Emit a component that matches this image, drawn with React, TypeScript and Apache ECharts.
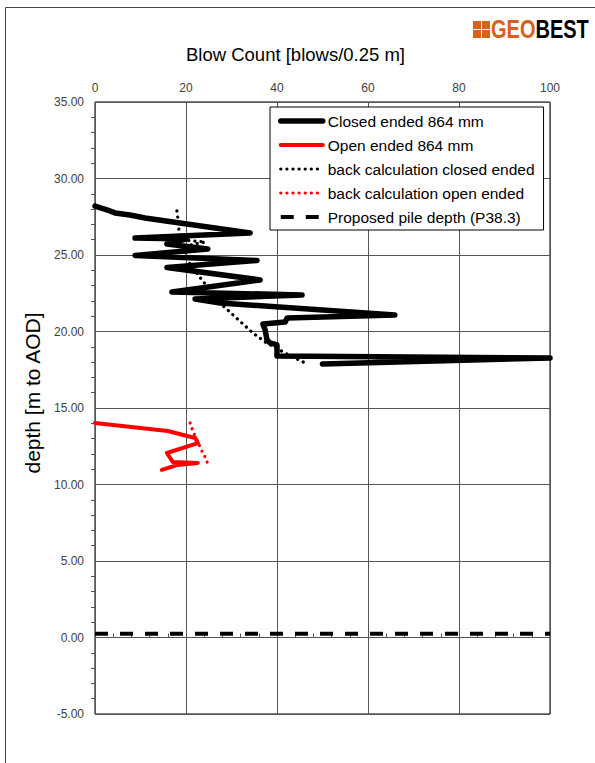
import React, { useEffect, useRef } from "react";
import * as echarts from "echarts";

// Closed ended 864 mm: blow count vs depth
const closedBlows = [0, 3.3, 4.4, 7.7, 11.0, 20.2, 34.1, 8.8, 20.2, 15.8, 24.8, 8.8, 35.6, 15.8, 36.3, 16.9, 45.5, 22.0, 27.5, 65.9, 42.2, 41.8, 36.9, 37.4, 37.8, 38.5, 40.0, 40.0, 100, 50];
const closedDepth = [28.2, 27.88, 27.75, 27.61, 27.42, 27.03, 26.44, 26.11, 26.05, 25.72, 25.39, 24.97, 24.64, 24.18, 23.37, 22.58, 22.39, 22.12, 21.86, 21.08, 20.88, 20.62, 20.49, 20.1, 19.44, 19.25, 19.12, 18.4, 18.27, 17.88];

// Open ended 864 mm
const openBlows = [0, 16.0, 22.0, 22.6, 15.8, 17.1, 22.6, 18.0, 14.7];
const openDepth = [14.02, 13.5, 13.04, 12.71, 12.06, 11.47, 11.41, 11.27, 10.95];

// back calculation closed ended
const backClosedBlows = [18.0, 18.2, 18.5, 19.1, 24.2, 20.0, 19.8, 21.5, 23.5, 27.5, 34.7, 37.4, 41.8, 46.2];
const backClosedDepth = [27.88, 27.42, 26.44, 25.98, 25.85, 25.59, 24.87, 24.15, 23.37, 21.86, 19.9, 19.31, 18.59, 17.94];

// back calculation open ended
const backOpenBlows = [20.9, 21.5, 22.4, 23.5, 24.2, 24.8];
const backOpenDepth = [14.02, 13.5, 12.91, 12.19, 11.8, 11.34];

// Proposed pile depth (P38.3)
const pileBlows = [0, 100];
const pileDepth = [0.25, 0.25];

const seriesNames = [
  "Closed ended 864 mm",
  "Open ended 864 mm",
  "back calculation closed ended",
  "back calculation open ended",
  "Proposed pile depth (P38.3)",
];

const zip = (a: number[], b: number[]) => a.map((v, i) => [v, b[i]]);

const FONT = "Liberation Sans, Arial, sans-serif";

export default function App() {
  const ref = useRef<HTMLDivElement>(null);
  useEffect(() => {
    if (!ref.current) return;
    const chart = echarts.init(ref.current, null, { renderer: "svg" });
    const lineBase = { type: "line", showSymbol: false, symbol: "none", smooth: false };
    chart.setOption({
      animation: false,
      backgroundColor: "#ffffff",
      textStyle: { fontFamily: FONT },
      grid: { left: 95, top: 102, right: 45, bottom: 49, show: true, borderColor: "#000", borderWidth: 1, containLabel: false },
      xAxis: {
        type: "value",
        position: "top",
        min: 0,
        max: 100,
        interval: 20,
        name: "Blow Count [blows/0.25 m]",
        nameLocation: "middle",
        nameGap: 38,
        nameTextStyle: { fontSize: 18.5, color: "#000", fontFamily: FONT, padding: [0, 54, 0, 0] },
        axisLine: { show: false },
        axisTick: { show: false },
        minorTick: { show: true, splitNumber: 5, length: 4, lineStyle: { color: "#555" } },
        axisLabel: { fontSize: 12, color: "#404040", margin: 8, fontFamily: FONT },
        splitLine: { show: true, lineStyle: { color: "#555", width: 1 } },
      },
      yAxis: {
        type: "value",
        min: -5,
        max: 35,
        interval: 5,
        name: "depth [m to AOD]",
        nameLocation: "middle",
        nameGap: 48,
        nameTextStyle: { fontSize: 21, color: "#000", fontFamily: FONT, padding: [0, 0, 0, 30] },
        axisLine: { show: false },
        axisTick: { show: false },
        minorTick: { show: true, splitNumber: 5, length: 4, lineStyle: { color: "#555" } },
        axisLabel: { fontSize: 12, color: "#404040", margin: 11, fontFamily: FONT, formatter: (v: number) => v.toFixed(2) },
        splitLine: { show: true, lineStyle: { color: "#555", width: 1 } },
      },
      legend: {
        orient: "vertical",
        left: 270,
        top: 107,
        itemWidth: 42,
        itemHeight: 14,
        itemGap: 8,
        padding: [6, 9, 5, 8],
        borderColor: "#000",
        borderWidth: 1,
        backgroundColor: "#fff",
        itemStyle: { opacity: 0, borderWidth: 0 },
        lineStyle: { width: "inherit", type: "inherit", color: "inherit", cap: "inherit" },
        textStyle: { fontSize: 15.5, color: "#000", fontFamily: FONT },
        data: seriesNames,
      },
      graphic: [
        { type: "rect", shape: { x: 5.5, y: 7.5, width: 700, height: 900 }, style: { fill: "none", stroke: "#444", lineWidth: 1 }, silent: true },
        { type: "rect", shape: { x: 473, y: 21, width: 8, height: 8 }, style: { fill: "#D9601A" } },
        { type: "rect", shape: { x: 482, y: 21, width: 8, height: 8 }, style: { fill: "#D9601A" } },
        { type: "rect", shape: { x: 473, y: 30, width: 8, height: 8 }, style: { fill: "#D9601A" } },
        { type: "rect", shape: { x: 482, y: 30, width: 8, height: 8 }, style: { fill: "#D9601A" } },
        {
          type: "text",
          x: 491,
          y: 16,
          scaleX: 0.77,
          style: {
            text: "{o|GEO}{b|BEST}",
            font: "bold 26px Liberation Sans, Arial, sans-serif",
            rich: {
              o: { fill: "#D9601A", fontWeight: "bold", fontSize: 26, fontFamily: FONT },
              b: { fill: "#000", fontWeight: "bold", fontSize: 26, fontFamily: FONT },
            },
          },
        },
      ],
      series: [
        { ...lineBase, name: seriesNames[0], data: zip(closedBlows, closedDepth), lineStyle: { color: "#000", width: 5.5, join: "round", cap: "round" }, itemStyle: { color: "#000" }, z: 3 },
        { ...lineBase, name: seriesNames[1], data: zip(openBlows, openDepth), lineStyle: { color: "#ff0000", width: 4, join: "round", cap: "round" }, itemStyle: { color: "#ff0000" }, z: 3 },
        { ...lineBase, name: seriesNames[2], data: zip(backClosedBlows, backClosedDepth), lineStyle: { color: "#000", width: 3.2, type: [0.1, 6], cap: "round" }, itemStyle: { color: "#000" }, z: 4 },
        { ...lineBase, name: seriesNames[3], data: zip(backOpenBlows, backOpenDepth), lineStyle: { color: "#ff0000", width: 3.2, type: [0.1, 6], cap: "round" }, itemStyle: { color: "#ff0000" }, z: 4 },
        { ...lineBase, name: seriesNames[4], data: zip(pileBlows, pileDepth), lineStyle: { color: "#000", width: 4, type: [13, 12] }, itemStyle: { color: "#000" }, z: 4 },
      ],
    });
    return () => chart.dispose();
  }, []);
  return <div ref={ref} style={{ position: "absolute", left: 0, top: 0, width: 595, height: 763 }} />;
}
